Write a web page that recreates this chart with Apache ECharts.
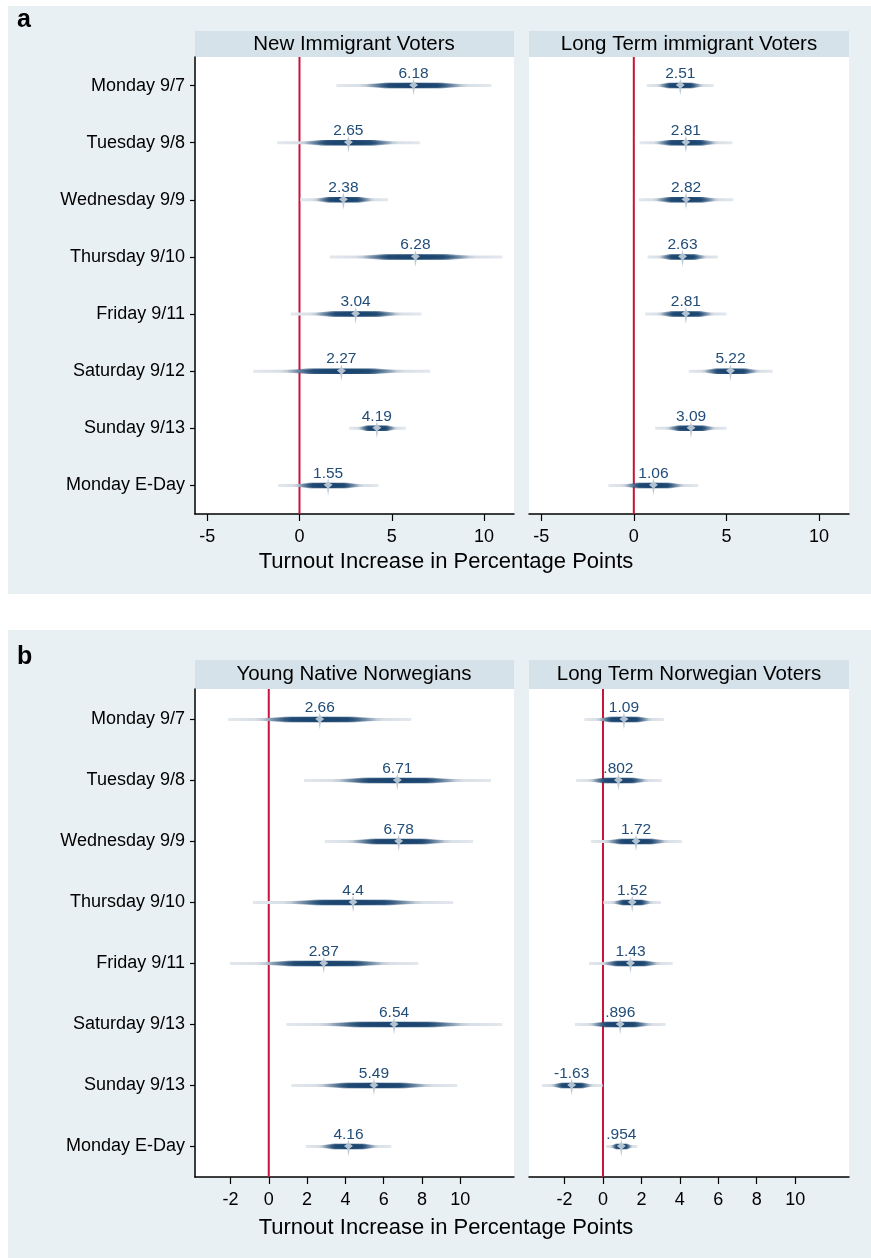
<!DOCTYPE html>
<html>
<head>
<meta charset="utf-8">
<title>Turnout increase by day of advance voting</title>
<script src="https://cdn.jsdelivr.net/npm/echarts@6/dist/echarts.min.js"></script>
<style>
    html, body { margin: 0; padding: 0; background: #fff; }
    #chart { width: 871px; height: 1258px; }
</style>
</head>
<body>
<div id="chart"></div>
<script>
    // rows, top to bottom
    var daysA = ['Monday 9/7', 'Tuesday 9/8', 'Wednesday 9/9', 'Thursday 9/10', 'Friday 9/11', 'Saturday 9/12', 'Sunday 9/13', 'Monday E-Day'];
    var daysB = ['Monday 9/7', 'Tuesday 9/8', 'Wednesday 9/9', 'Thursday 9/10', 'Friday 9/11', 'Saturday 9/13', 'Sunday 9/13', 'Monday E-Day'];

    // a: new immigrant voters
    var newImmEst = [6.18, 2.65, 2.38, 6.28, 3.04, 2.27, 4.19, 1.55];
    var newImmLo  = [2.00, -1.21, 0.04, 1.64, -0.47, -2.51, 2.69, -1.16];
    var newImmHi  = [10.40, 6.52, 4.80, 10.99, 6.61, 7.09, 5.76, 4.28];
    // a: long term immigrant voters
    var longImmEst = [2.51, 2.81, 2.82, 2.63, 2.81, 5.22, 3.09, 1.06];
    var longImmLo  = [0.70, 0.31, 0.27, 0.74, 0.61, 2.97, 1.15, -1.37];
    var longImmHi  = [4.31, 5.32, 5.37, 4.54, 5.01, 7.50, 5.01, 3.48];
    // b: young native norwegians
    var youngEst = [2.66, 6.71, 6.78, 4.4, 2.87, 6.54, 5.49, 4.16];
    var youngLo  = [-2.12, 1.84, 2.92, -0.82, -2.03, 0.92, 1.18, 1.93];
    var youngHi  = [7.44, 11.60, 10.66, 9.63, 7.81, 12.19, 9.84, 6.40];
    // b: long term norwegian voters
    var longNorEst = [1.09, 0.802, 1.72, 1.52, 1.43, 0.896, -1.63, 0.954];
    var longNorLo  = [-0.97, -1.41, -0.63, 0.02, -0.73, -1.46, -3.18, 0.16];
    var longNorHi  = [3.18, 3.06, 4.11, 3.02, 3.63, 3.26, -0.02, 1.79];

    var ticksA = [-5, 0, 5, 10];
    var ticksB = [-2, 0, 2, 4, 6, 8, 10];
    var rangeA = [-5.66, 11.62];
    var rangeB = [-3.85, 12.8];

    var FONT = '"Liberation Sans", Arial, sans-serif';
    var navy = '#1c4670';

    // stata style: .802 instead of 0.802
    function fmt(v) {
        return String(v).replace(/^(-?)0\./, '$1.');
    }

    function rows(est, lo, hi) {
        var out = [];
        for (var i = 0; i < est.length; i++) out.push([est[i], lo[i], hi[i], i]);
        return out;
    }

    function renderGlyph(params, api) {
        var est = api.value(0), lo = api.value(1), hi = api.value(2), row = api.value(3);
        var c = api.coord([est, row]);
        var xa = api.coord([lo, row])[0];
        var xb = api.coord([hi, row])[0];
        var xc = c[0], y = c[1];
        var s = (xc - xa) / (xb - xa);
        var r = 1 - s;
        var thin = new echarts.graphic.LinearGradient(0, 0, 1, 0, [
            {offset: 0, color: '#e3e8ed'},
            {offset: s * 0.3, color: '#d8dfe6'},
            {offset: s * 0.55, color: '#93a7bb'},
            {offset: s * 0.78, color: navy},
            {offset: s + r * 0.22, color: navy},
            {offset: s + r * 0.45, color: '#93a7bb'},
            {offset: s + r * 0.7, color: '#d8dfe6'},
            {offset: 1, color: '#e3e8ed'}
        ]);
        var la = xc - (xc - xa) * 0.62, lb = xc + (xb - xc) * 0.62;
        var s2 = (xc - la) / (lb - la);
        var lens = new echarts.graphic.LinearGradient(0, 0, 1, 0, [
            {offset: 0, color: 'rgba(28,70,112,0)'},
            {offset: s2 * 0.5, color: 'rgba(28,70,112,0.9)'},
            {offset: s2, color: navy},
            {offset: s2 + (1 - s2) * 0.5, color: 'rgba(28,70,112,0.9)'},
            {offset: 1, color: 'rgba(28,70,112,0)'}
        ]);
        var w1 = xc - la, w2 = lb - xc;
        return {
            type: 'group',
            children: [
                {type: 'rect', shape: {x: xa, y: y - 1.5, width: xb - xa, height: 3}, style: {fill: thin}},
                {type: 'polygon', shape: {points: [
                    [la, y - 1.5], [xc - w1 * 0.6, y - 2.7], [xc + w2 * 0.6, y - 2.7], [lb, y - 1.5],
                    [lb, y + 1.5], [xc + w2 * 0.6, y + 2.7], [xc - w1 * 0.6, y + 2.7], [la, y + 1.5]
                ]}, style: {fill: lens}},
                {type: 'polygon', shape: {points: [
                    [xc, y - 7], [xc + 1.1, y - 3], [xc + 4.5, y - 0.6], [xc + 1.3, y + 2],
                    [xc, y + 10], [xc - 1.3, y + 2], [xc - 4.5, y - 0.6], [xc - 1.1, y - 3]
                ]}, style: {fill: 'rgba(188,201,214,0.95)'}},
                {type: 'text', x: xc, y: y - 12, style: {
                    text: fmt(est), fill: '#214d78', font: '15.5px ' + FONT,
                    align: 'center', verticalAlign: 'middle'
                }}
            ]
        };
    }

    function renderZero(params, api) {
        var p = api.coord([api.value(0), 0]);
        var cs = params.coordSys;
        return {
            type: 'line',
            shape: {x1: p[0], y1: cs.y, x2: p[0], y2: cs.y + cs.height},
            style: {stroke: '#c8143c', lineWidth: 2}
        };
    }

    function xAxisFor(gi, range, ticks) {
        return {
            type: 'value', gridIndex: gi, min: range[0], max: range[1],
            axisLine: {show: true, onZero: false, lineStyle: {color: '#000', width: 1.5}},
            axisTick: {show: true, length: 7, customValues: ticks, lineStyle: {color: '#000', width: 1.2}},
            axisLabel: {customValues: ticks, color: '#000', fontSize: 18, fontFamily: FONT, margin: 14},
            splitLine: {show: false}
        };
    }

    function yAxisFor(gi, days, show) {
        return {
            type: 'category', gridIndex: gi, data: days, inverse: true,
            axisLine: {show: show, onZero: false, lineStyle: {color: '#000', width: 1.5}},
            axisTick: {show: show, alignWithLabel: true, length: 5, lineStyle: {color: '#000', width: 1.2}},
            axisLabel: {show: show, color: '#000', fontSize: 18, fontFamily: FONT, margin: 10},
            splitLine: {show: false}
        };
    }

    function glyphSeries(gi, est, lo, hi) {
        return {
            type: 'custom', xAxisIndex: gi, yAxisIndex: gi, z: 3,
            renderItem: renderGlyph, encode: {x: [0, 1, 2], y: 3},
            data: rows(est, lo, hi), silent: true
        };
    }

    function zeroSeries(gi) {
        return {
            type: 'custom', xAxisIndex: gi, yAxisIndex: gi, z: 2,
            renderItem: renderZero, encode: {x: 0, y: 1},
            data: [[0, 0]], silent: true
        };
    }

    var gridBase = {show: true, backgroundColor: '#fff', borderWidth: 0, containLabel: false};

    var option = {
        animation: false,
        backgroundColor: '#fff',
        textStyle: {fontFamily: FONT},
        grid: [
            Object.assign({left: 195, top: 57, width: 319, height: 457}, gridBase),
            Object.assign({left: 529, top: 57, width: 320, height: 457}, gridBase),
            Object.assign({left: 195, top: 689, width: 319, height: 488}, gridBase),
            Object.assign({left: 529, top: 689, width: 320, height: 488}, gridBase)
        ],
        xAxis: [
            xAxisFor(0, rangeA, ticksA),
            xAxisFor(1, rangeA, ticksA),
            xAxisFor(2, rangeB, ticksB),
            xAxisFor(3, rangeB, ticksB)
        ],
        yAxis: [
            yAxisFor(0, daysA, true),
            yAxisFor(1, daysA, false),
            yAxisFor(2, daysB, true),
            yAxisFor(3, daysB, false)
        ],
        graphic: [
            {type: 'rect', z: -10, shape: {x: 8, y: 6, width: 863, height: 588}, style: {fill: '#e9f0f3'}},
            {type: 'rect', z: -10, shape: {x: 8, y: 630, width: 863, height: 628}, style: {fill: '#e9f0f3'}},
            {type: 'rect', shape: {x: 195, y: 31, width: 319, height: 26}, style: {fill: '#d6e2e9'}},
            {type: 'rect', shape: {x: 529, y: 31, width: 320, height: 26}, style: {fill: '#d6e2e9'}},
            {type: 'rect', shape: {x: 195, y: 660, width: 319, height: 29}, style: {fill: '#d6e2e9'}},
            {type: 'rect', shape: {x: 529, y: 660, width: 320, height: 29}, style: {fill: '#d6e2e9'}},
            {type: 'text', x: 354, y: 44, style: {text: 'New Immigrant Voters', font: '20.5px ' + FONT, fill: '#000', align: 'center', verticalAlign: 'middle'}},
            {type: 'text', x: 689, y: 44, style: {text: 'Long Term immigrant Voters', font: '20.5px ' + FONT, fill: '#000', align: 'center', verticalAlign: 'middle'}},
            {type: 'text', x: 354, y: 674, style: {text: 'Young Native Norwegians', font: '20.5px ' + FONT, fill: '#000', align: 'center', verticalAlign: 'middle'}},
            {type: 'text', x: 689, y: 674, style: {text: 'Long Term Norwegian Voters', font: '20.5px ' + FONT, fill: '#000', align: 'center', verticalAlign: 'middle'}},
            {type: 'text', x: 446, y: 562, style: {text: 'Turnout Increase in Percentage Points', font: '22px ' + FONT, fill: '#000', align: 'center', verticalAlign: 'middle'}},
            {type: 'text', x: 446, y: 1228, style: {text: 'Turnout Increase in Percentage Points', font: '22px ' + FONT, fill: '#000', align: 'center', verticalAlign: 'middle'}},
            {type: 'text', x: 17, y: 20, style: {text: 'a', font: 'bold 25px ' + FONT, fill: '#000', verticalAlign: 'middle'}},
            {type: 'text', x: 17, y: 657, style: {text: 'b', font: 'bold 25px ' + FONT, fill: '#000', verticalAlign: 'middle'}}
        ],
        series: [
            zeroSeries(0), glyphSeries(0, newImmEst, newImmLo, newImmHi),
            zeroSeries(1), glyphSeries(1, longImmEst, longImmLo, longImmHi),
            zeroSeries(2), glyphSeries(2, youngEst, youngLo, youngHi),
            zeroSeries(3), glyphSeries(3, longNorEst, longNorLo, longNorHi)
        ]
    };

    var chart = echarts.init(document.getElementById('chart'), null, {renderer: 'canvas'});
    chart.setOption(option);
</script>
</body>
</html>
